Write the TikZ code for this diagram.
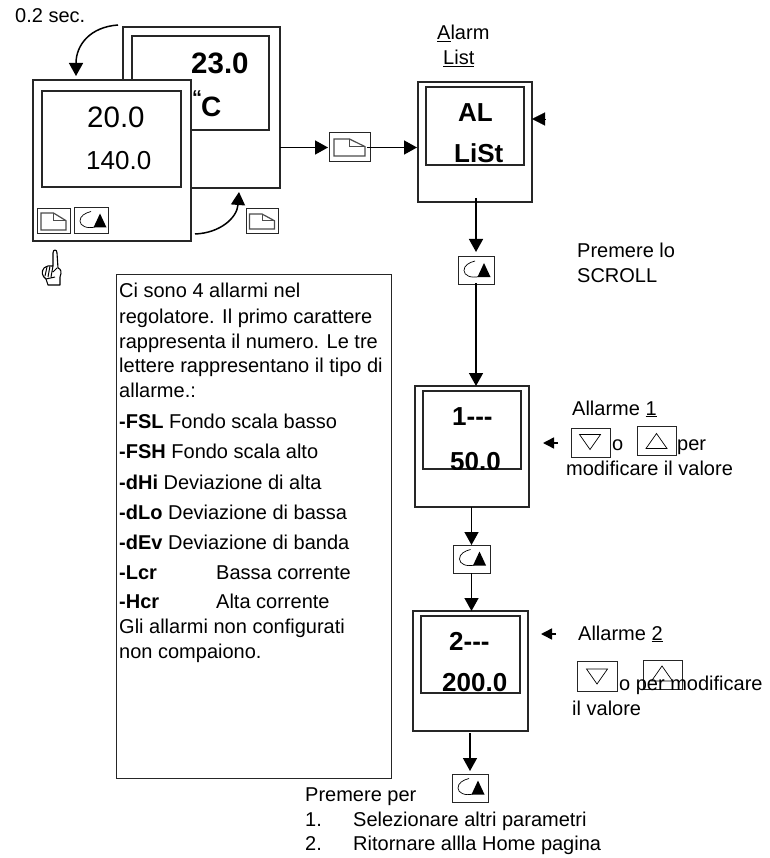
\documentclass[tikz,border=0pt]{standalone}
\usepackage{fontspec}
\setmainfont{Liberation Sans}
\usetikzlibrary{arrows.meta,calc}
\newcommand{\sz}[1]{\fontsize{#1}{#1}\selectfont}
\tikzset{
  x=1pt,y=-1pt,
  txt/.style={anchor=base west,inner sep=0pt,font=\sz{20}},
  big/.style={anchor=base west,inner sep=0pt,font=\sz{29.5}},
  bigb/.style={anchor=base west,inner sep=0pt,font=\sz{26}\bfseries},
  instr/.style={draw=black!85,line width=1.5pt,fill=white,inner sep=0pt,outer sep=0pt},
  keybox/.style={draw=black!85,line width=1pt,fill=white,inner sep=0pt,outer sep=0pt},
  arr/.style={line width=1.5pt,-{Triangle[length=13pt,width=14pt]}},
  small arr/.style={line width=1.5pt,-{Triangle[length=11pt,width=11pt]}},
  pics/pageicon/.style={code={
    \draw[line width=1.2pt,draw=black!70] (-1,-1) -- (0,-1) -- (1,-.1) -- (1,1) -- (-1,1) -- cycle;
    \draw[line width=.8pt,draw=black!70] (0,-1) -- (0,-.1) -- (1,-.1);
  }},
  pics/scrollicon/.style={code={
    \draw[line width=.7pt] (-1,-9.5) .. controls (-7,-8) and (-12,-5) .. (-12,0) .. controls (-12,5) and (-5,8) .. (3,6);
    \fill (8,-7.5) -- (14.5,6.5) -- (1.5,6.5) -- cycle;
  }},
  pics/downicon/.style={code={\draw[line width=.7pt] (-10.5,-7.5) -- (10.5,-7.5) -- (0,7.5) -- cycle;}},
  pics/upicon/.style={code={\draw[line width=.7pt] (-10.5,7.5) -- (10.5,7.5) -- (0,-7.5) -- cycle;}},
}
\newcommand{\boxat}[7][instr]{%
  \node[#1,minimum width=#5-#3,minimum height=#6-#4] (#2) at ({(#3+#5)/2},{(#4+#6)/2}) {};#7}
\begin{document}
\begin{tikzpicture}
\useasboundingbox (0,0) rectangle (769,858);

% back instrument
\boxat{back}{123}{27}{280}{188}{}
\boxat{backin}{132}{36}{269}{130}{}
\node[big,font=\sz{29.5}\bfseries] (t230) at (191,74) {23.0};
\node[txt,font=\sz{20}\bfseries] (tq) at (192,105) {“};
\node[big,font=\sz{28}\bfseries] (tc) at (201,117) {C};

% front instrument
\boxat{front}{33}{80}{191}{241}{}
\boxat{frontin}{42}{91}{181}{187}{}
\node[big] (t200) at (87,128) {20.0};
\node[big,font=\sz{26}] (t140) at (86,170) {140.0};
\boxat[keybox]{fpage}{37}{209}{70}{234}{}
\pic[xscale=12.5,yscale=8.5] at (fpage) {pageicon};
\boxat[keybox]{fscroll}{74}{208}{108}{234}{}
\pic at (92,221) {scrollicon};

% hand
\draw[line width=1.1pt,line join=round,fill=white] (53,266) -- (53,253) .. controls (53,249) and (57,249) .. (57,253)
  -- (58,268) .. controls (61,269) and (62,272) .. (60,277) -- (60,285) -- (48,285) -- (46,279)
  .. controls (42,276) and (41,272) .. (44,268) .. controls (47,266) and (50,265) .. (53,266) -- cycle;
\draw[line width=1pt] (47,267) -- (45,276) (50,266) -- (48,277) (53,266) -- (51,277) (57,268) -- (53,272) (46,279) -- (55,277);

% time labels and curved arrows
\node[txt] (t02) at (15,23) {0.2 sec.};
\coordinate (c1s) at (118,25);
\coordinate (c1e) at (76,76);
\draw[arr] (c1s) .. controls (90,27) and (76,45) .. (c1e);
\coordinate (c2s) at (195,234);
\coordinate (c2e) at (239,192);
\draw[arr] (c2s) .. controls (220,233) and (237,218) .. (c2e);
\boxat[keybox]{bpage}{246}{209}{278}{234}{}
\pic[xscale=12.5,yscale=7.5] at (bpage) {pageicon};

% key to Alarm List
\boxat[keybox]{key1}{329}{133}{370}{162}{}
\pic[xscale=15.5,yscale=8.5] at (key1) {pageicon};
\boxat{alarm}{418}{82}{532}{202}{}
\boxat{alarmin}{426}{87}{524}{165}{}
\node[bigb] (tal) at (458,122) {AL};
\node[bigb] (tlist) at (454,163) {LiSt};
\node[txt] (talarm) at (437,40) {\underline{A}larm};
\node[txt] (tlistl) at (443,65) {\underline{List}};
\coordinate (backout) at (back.east |- key1.west);
\draw[arr,shorten >=1pt] (backout) -- (key1.west);
\draw[arr,shorten <=-3pt,shorten >=1pt] (key1.east) -- (alarm.west |- key1.east);
\coordinate (alarmarr) at (545,119);
\draw[-{Triangle[length=13pt,width=13pt]},line width=.1pt] (alarmarr) -- (alarm.east |- alarmarr);

% scroll 1
\boxat[keybox]{sc1}{458}{257}{494}{284}{}
\pic at (sc1) {scrollicon};
\draw[arr,shorten <=-4pt,shorten >=5pt] (alarm.south -| sc1.north) -- (sc1.north);
\node[txt] (tprem) at (577,258) {Premere lo};
\node[txt] (tscroll) at (577,283) {SCROLL};

% Alarm 1
\boxat{a1}{415}{386}{529}{507}{}
\boxat{a1in}{423}{391}{521}{469}{}
\node[bigb] (t1) at (452,425) {1{-}{-}{-}};
\begin{scope}
\clip (423,391) rectangle (521,469);
\node[bigb] (t50) at (450,470) {50.0};
\end{scope}
\draw[arr,shorten <=-1pt,shorten >=0pt] (sc1.south) -- (sc1.south |- a1.north);
\coordinate (a1arr) at (558,443);
\draw[small arr,shorten >=14pt] (a1arr) -- (a1.east |- a1arr);
\node[txt] (ta1) at (572,415) {Allarme \underline{1}};
\boxat[keybox]{d1}{571}{428}{610}{457}{}
\pic at (590,442) {downicon};
\boxat[keybox]{u1}{637}{426}{676}{455}{}
\pic at (656.5,441) {upicon};
\node[txt] (to1) at (612,450) {o};
\node[txt] (tper1) at (677,450) {per};
\node[txt] (tmod1) at (566,475) {modificare il valore};

% scroll 2
\boxat[keybox]{sc2}{453}{545}{490}{573}{}
\pic at (sc2) {scrollicon};
\draw[arr] (a1.south -| sc2.north) -- (sc2.north);

% Alarm 2
\boxat{a2}{413}{611}{528}{731}{}
\boxat{a2in}{421}{616}{520}{693}{}
\node[bigb] (t2) at (449,650) {2{-}{-}{-}};
\node[bigb] (t2000) at (442,691) {200.0};
\draw[arr] (sc2.south) -- (sc2.south |- a2.north);
\coordinate (a2arr) at (556,634);
\draw[small arr,shorten >=13pt] (a2arr) -- (a2.east |- a2arr);
\node[txt] (ta2) at (578,640) {Allarme \underline{2}};
\boxat[keybox]{d2}{577}{661}{617}{691}{}
\pic at (597,676.5) {downicon};
\boxat[keybox]{u2}{643}{660}{682}{689}{}
\pic at (662,673.5) {upicon};
\node[txt] (to2) at (619,690) {o per modificare};
\node[txt] (tmod2) at (572,715) {il valore};

% scroll 3
\boxat[keybox]{sc3}{452}{774}{488}{802}{}
\pic at (sc3) {scrollicon};
\draw[arr,shorten <=2pt,shorten >=3pt] (a2.south -| sc3.north) -- (sc3.north);
\node[txt] (tpp) at (305,801) {Premere per};
\node[txt] (tn1) at (305,826) {1.};
\node[txt] (tl1) at (353,826) {Selezionare altri parametri};
\node[txt] (tn2) at (305,850) {2.};
\node[txt] (tl2) at (353,850) {Ritornare allla Home pagina};

% text panel
\boxat[keybox]{panel}{116}{275}{391}{778}{}
\node[txt] (p1) at (119,298) {Ci sono 4 allarmi nel};
\node[txt] (p2) at (119,323) {regolatore. Il primo carattere};
\node[txt] (p3) at (119,348) {rappresenta il numero. Le tre};
\node[txt] (p4) at (119,372) {lettere rappresentano il tipo di};
\node[txt] (p5) at (119,397) {allarme.:};
\node[txt] (p6) at (119,428) {\textbf{-FSL} Fondo scala basso};
\node[txt] (p7) at (119,458) {\textbf{-FSH} Fondo scala alto};
\node[txt] (p8) at (119,489) {\textbf{-dHi} Deviazione di alta};
\node[txt] (p9) at (119,519) {\textbf{-dLo} Deviazione di bassa};
\node[txt] (p10) at (119,549) {\textbf{-dEv} Deviazione di banda};
\node[txt] (p11) at (119,579) {\textbf{-Lcr}};
\node[txt] (p11b) at (216,579) {Bassa corrente};
\node[txt] (p12) at (119,608) {\textbf{-Hcr}};
\node[txt] (p12b) at (216,608) {Alta corrente};
\node[txt] (p13) at (119,633) {Gli allarmi non configurati};
\node[txt] (p14) at (119,658) {non compaiono.};
\end{tikzpicture}
\end{document}
